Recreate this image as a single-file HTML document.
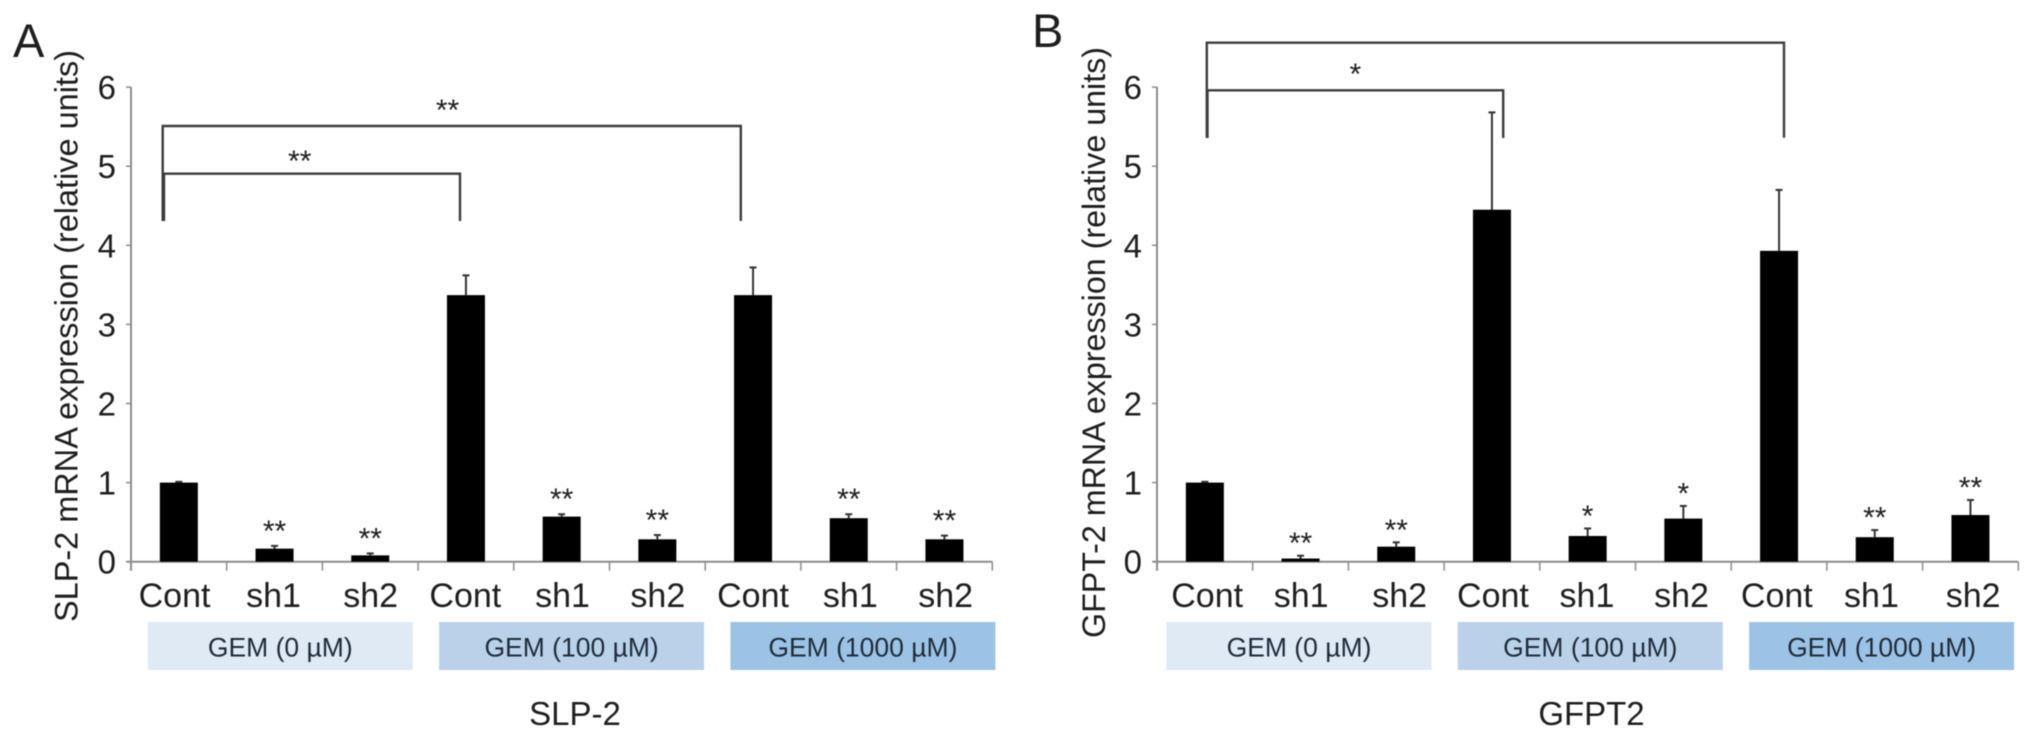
<!DOCTYPE html>
<html lang="en">
<head>
<meta charset="utf-8">
<title>SLP-2 and GFPT2 mRNA expression</title>
<style>
html,body{margin:0;padding:0;background:#fff;width:2032px;height:738px;overflow:hidden}
svg{display:block;font-family:"Liberation Sans",Arial,sans-serif;filter:blur(.5px)}
text{fill:#1e1e1e}
</style>
</head>
<body>
<svg id="figure" xmlns="http://www.w3.org/2000/svg" width="2032" height="738" viewBox="0 0 2032 738"></svg>
<script>
const categories = ['Cont', 'sh1', 'sh2', 'Cont', 'sh1', 'sh2', 'Cont', 'sh1', 'sh2'];
const groupLabels = ['GEM (0 µM)', 'GEM (100 µM)', 'GEM (1000 µM)'];
const yTickLabels = [0, 1, 2, 3, 4, 5, 6];
const slpValues = [1.0, 0.165, 0.08, 3.37, 0.57, 0.283, 3.37, 0.55, 0.283];
const slpErrorTops = [1.01, 0.2, 0.105, 3.62, 0.6, 0.337, 3.72, 0.6, 0.33];
const slpStars = ['', '**', '**', '', '**', '**', '', '**', '**'];
const gfptValues = [1.0, 0.04, 0.19, 4.45, 0.325, 0.545, 3.93, 0.31, 0.59];
const gfptErrorTops = [1.01, 0.076, 0.245, 5.68, 0.42, 0.705, 4.7, 0.4, 0.78];
const gfptStars = ['', '**', '**', '', '*', '*', '', '**', '**'];

const NS = 'http://www.w3.org/2000/svg';
const root = document.getElementById('figure');
const groupFills = ['#dfeaf5', '#b9d2ea', '#9cc3e6'];

function shape(tag, parent, props) {
  const el = document.createElementNS(NS, tag);
  for (const k in props) el.setAttribute(k, props[k]);
  parent.appendChild(el);
  return el;
}

function drawPanel(cfg) {
  const g = shape('g', root, {});
  
  

  const y0 = 561.7, unit = 79.1, step = 95.7, barW = 38;
  const yScale = v => y0 - v * unit;
  const xLeft = cfg.axisX;
  const xCenter = i => xLeft + step * (i + 0.5);
  const axisEnd = xLeft + step * categories.length;
  const axisColor = '#8c8c8c';

  const letter = shape('text', g, {x: cfg.letterX, y: cfg.letterY, 'font-size': 47});
  
  
  letter.textContent = cfg.letter;

  const yAxis = shape('line', g, {x1: xLeft, x2: xLeft, y1: yScale(6), y2: y0 + 9, stroke: axisColor, 'stroke-width': 2});
  
  

  const xAxis = shape('line', g, {x1: xLeft - 4, x2: axisEnd, y1: y0, y2: y0, stroke: axisColor, 'stroke-width': 2});
  
  

  yTickLabels.forEach(v => {
    const t = shape('line', g, {x1: xLeft - 5, x2: xLeft, y1: yScale(v), y2: yScale(v), stroke: axisColor, 'stroke-width': 1.5});
    
    
    const l = shape('text', g, {x: xLeft - 15, y: yScale(v) + 12, 'font-size': 33, 'text-anchor': 'end'});
    
    
    l.textContent = v;
  });

  for (let i = 1; i <= categories.length; i++) {
    const t = shape('line', g, {x1: xLeft + step * i, x2: xLeft + step * i, y1: y0, y2: y0 + 9, stroke: axisColor, 'stroke-width': 1.5});
    
    
  }

  const yTitle = shape('text', g, {
    transform: 'translate(' + cfg.titleX + ',' + cfg.titleBottom + ') rotate(-90)',
    'font-size': 32, textLength: cfg.titleLength, lengthAdjust: 'spacingAndGlyphs'
  });
  
  
  yTitle.textContent = cfg.yTitle;

  categories.forEach((c, i) => {
    const top = yScale(cfg.errors[i]);
    const barTop = yScale(cfg.values[i]);
    const cx = xCenter(i);

    const err = shape('line', g, {x1: cx, x2: cx, y1: top, y2: barTop, stroke: '#333', 'stroke-width': 2});
    
    

    const cap = shape('line', g, {x1: cx - 3.5, x2: cx + 3.5, y1: top, y2: top, stroke: '#333', 'stroke-width': 2});
    
    

    const bar = shape('rect', g, {x: cx - barW / 2, y: barTop, width: barW, height: y0 - barTop, fill: '#000'});
    
    

    const label = shape('text', g, {x: cx + cfg.labelShift[i], y: 607, 'font-size': 34, 'text-anchor': 'middle'});
    
    
    label.textContent = c;

    if (cfg.stars[i]) {
      const star = shape('text', g, {x: cx, y: top - cfg.starGap + 14.5, 'font-size': 30, 'text-anchor': 'middle'});
      
      
      star.textContent = cfg.stars[i];
    }
  });

  groupLabels.forEach((name, i) => {
    const bx = cfg.boxX + 291.3 * i;
    const box = shape('rect', g, {x: bx, y: 622, width: 265, height: 48, fill: groupFills[i]});
    
    
    const t = shape('text', g, {x: bx + 132.5, y: 656.5, 'font-size': 26.5, 'text-anchor': 'middle'});
    t.style.fill = '#1f2b3a';
    
    
    t.textContent = name;
  });

  const xTitle = shape('text', g, {x: cfg.xTitleX, y: 725, 'font-size': 33, 'text-anchor': 'middle'});
  
  
  xTitle.textContent = cfg.xTitle;

  cfg.brackets.forEach(b => {
    const p = shape('path', g, {
      d: 'M' + b.left + ' ' + b.bottom + 'V' + b.top + 'H' + b.right + 'V' + b.bottom,
      fill: 'none', stroke: '#3c3c3c', 'stroke-width': 2.4
    });
    
    
    if (b.stars) {
      const s = shape('text', g, {x: b.starX, y: b.starY + 14, 'font-size': 30, 'text-anchor': 'middle'});
      
      
      s.textContent = b.stars;
    }
  });
}

drawPanel({
  key: 'slp2', letter: 'A', letterX: 13, letterY: 57, axisX: 131,
  titleX: 77.5, titleBottom: 622, titleLength: 572,
  yTitle: 'SLP-2 mRNA expression (relative units)', xTitle: 'SLP-2', xTitleX: 575,
  values: slpValues, errors: slpErrorTops, stars: slpStars, starGap: 19.5,
  boxX: 147.8, labelShift: [-4.3, -1, 0.4, -0.6, 0.9, 0.5, 0, 1.6, 1.2],
  brackets: [
    {left: 162.7, right: 740.8, top: 126, bottom: 221, stars: '**', starX: 447.5, starY: 106},
    {left: 164, right: 460, top: 173.7, bottom: 221, stars: '**', starX: 299.7, starY: 157}
  ]
});

drawPanel({
  key: 'gfpt2', letter: 'B', letterX: 1032, letterY: 47, axisX: 1157,
  titleX: 1105, titleBottom: 638, titleLength: 591,
  yTitle: 'GFPT-2 mRNA expression (relative units)', xTitle: 'GFPT2', xTitleX: 1591.5,
  values: gfptValues, errors: gfptErrorTops, stars: gfptStars, starGap: 17,
  boxX: 1166.5, labelShift: [2.3, 0.6, 3.4, 1, -0.7, -1.8, -2.2, -3.3, 2.7],
  brackets: [
    {left: 1206.8, right: 1784, top: 42.7, bottom: 137.7},
    {left: 1207.5, right: 1503.2, top: 90.3, bottom: 138, stars: '*', starX: 1355.4, starY: 70}
  ]
});
</script>
</body>
</html>
